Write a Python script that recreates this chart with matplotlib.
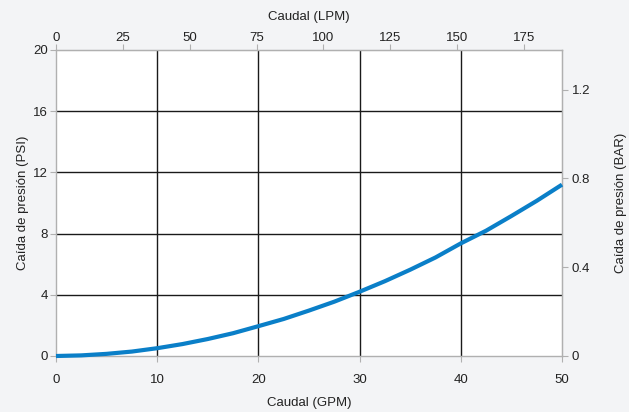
import matplotlib
matplotlib.use('Agg')
import matplotlib.pyplot as plt
import numpy as np

# Pressure drop curve (flow in GPM, drop in PSI)
flow_gpm = [0, 2.5, 5, 7.5, 10, 12.5, 15, 17.5, 20, 22.5, 25, 27.5,
            30, 32.5, 35, 37.5, 40, 42.5, 45, 47.5, 50]
drop_psi = [0, 0.04, 0.14, 0.29, 0.51, 0.78, 1.11, 1.49, 1.95, 2.42, 2.97, 3.55,
            4.2, 4.89, 5.64, 6.44, 7.36, 8.19, 9.15, 10.14, 11.2]

gpm_ticks = [0, 10, 20, 30, 40, 50]
psi_ticks = [0, 4, 8, 12, 16, 20]
lpm_ticks = [0, 25, 50, 75, 100, 125, 150, 175]
bar_ticks = [0, 0.4, 0.8, 1.2]

GPM_TO_LPM = 3.78541
PSI_TO_BAR = 0.0689476

plt.rcParams['font.family'] = ['Liberation Sans', 'DejaVu Sans']
plt.rcParams['font.size'] = 9.5

bg = '#f3f4f6'
spine_col = '#b0b0b0'
text_col = '#222222'

fig = plt.figure(figsize=(6.29, 4.12), dpi=100, facecolor=bg)
ax = fig.add_axes([56 / 629, 1 - 356 / 412, (562 - 56) / 629, (356 - 50) / 412])
ax.set_facecolor('white')

ax.set_xlim(0, 50)
ax.set_ylim(0, 20)
ax.set_xticks(gpm_ticks)
ax.set_yticks(psi_ticks)

# interior grid only, the outer edges are the frame
for x in gpm_ticks[1:-1]:
    ax.axvline(x, color='#1a1a1a', lw=1.0, zorder=1)
for y in psi_ticks[1:-1]:
    ax.axhline(y, color='#1a1a1a', lw=1.0, zorder=1)

ax.plot(flow_gpm, drop_psi, color='#0a7fc8', lw=3, solid_capstyle='butt', zorder=3, clip_on=False)

for s in ax.spines.values():
    s.set_color(spine_col)
    s.set_linewidth(1.0)

ax.tick_params(axis='x', colors=spine_col, labelcolor=text_col, length=4, pad=9)
ax.tick_params(axis='y', colors=spine_col, labelcolor=text_col, length=4, pad=2)

top = ax.secondary_xaxis('top', functions=(lambda g: g * GPM_TO_LPM, lambda l: l / GPM_TO_LPM))
top.set_xticks(lpm_ticks)
top.tick_params(colors=spine_col, labelcolor=text_col, length=4, pad=0)
top.spines['top'].set_color(spine_col)
top.set_xlabel('Caudal (LPM)', color=text_col, labelpad=9)

right = ax.secondary_yaxis('right', functions=(lambda p: p * PSI_TO_BAR, lambda b: b / PSI_TO_BAR))
right.set_yticks(bar_ticks)
right.set_yticklabels(['0', '0.4', '0.8', '1.2'])
right.tick_params(colors=spine_col, labelcolor=text_col, length=4, pad=3)
right.spines['right'].set_color(spine_col)
right.set_ylabel('Caída de presión (BAR)', color=text_col, labelpad=18)

ax.set_xlabel('Caudal (GPM)', color=text_col, labelpad=8)
ax.set_ylabel('Caída de presión (PSI)', color=text_col, labelpad=3)

fig.savefig('out.png', dpi=100, facecolor=bg)
